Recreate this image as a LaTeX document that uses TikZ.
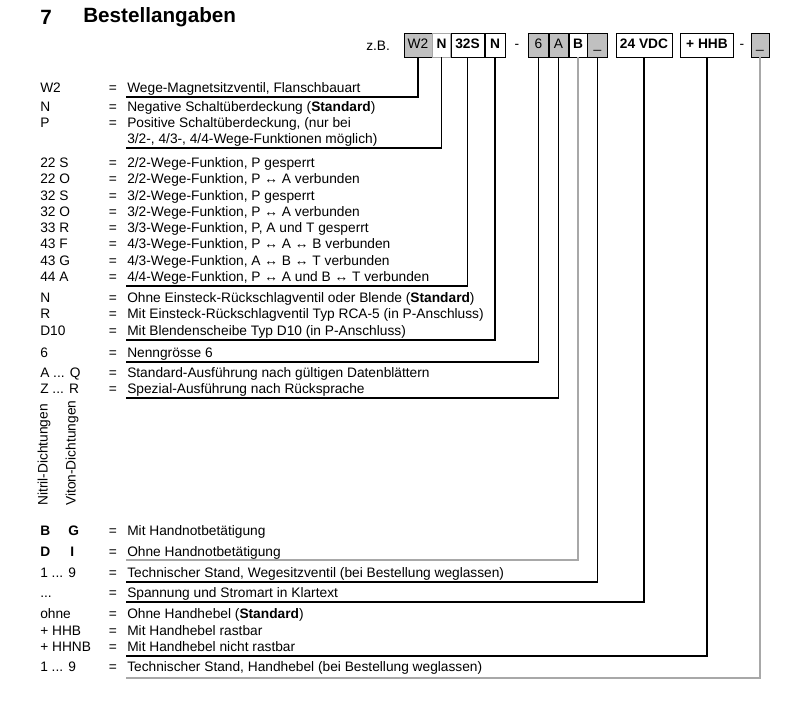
\documentclass[tikz,border=0pt]{standalone}
\usepackage{fontspec}
\setmainfont{Liberation Sans}
\begin{document}
\begin{tikzpicture}[x=0.75pt,y=-0.75pt,
  every node/.style={inner sep=0pt,font=\fontsize{10.3}{12}\selectfont},
  lab/.style={anchor=base west},
  eqs/.style={anchor=base},
  desc/.style={anchor=base west},
  code/.style={draw,line width=0.7pt,minimum height=18pt,anchor=center,text height=7.4pt,text depth=2.2pt,font=\fontsize{10.3}{12}\selectfont},
  codeb/.style={code,font=\fontsize{10.3}{12}\selectfont\bfseries},
  grayfill/.style={fill=boxgray},
  conn/.style={line width=0.8pt},
  gconn/.style={line width=0.8pt,draw=linegray}]
\definecolor{boxgray}{HTML}{C0C0C0}
\definecolor{linegray}{HTML}{A8A8A8}
\useasboundingbox (0,0) rectangle (807,702);
% title
\node[anchor=west,font=\fontsize{15.5}{18}\selectfont\bfseries] (t7) at (40,17.5) {7};
\node[anchor=west,font=\fontsize{15.5}{18}\selectfont\bfseries] (ttl) at (83,17.5) {Bestellangaben};
% code boxes
\node[anchor=west] (zb) at (366,46) {z.B.};
\node[code,grayfill,minimum width=21pt] (bW2) at (418,45) {W2};
\node[codeb,draw=linegray,minimum width=14pt] (bN) at (441.5,45) {N};
\node[codeb,minimum width=24.75pt] (bS) at (467.5,45) {32S};
\node[codeb,minimum width=15pt] (bR) at (495,45) {N};
\node (m1) at (517,46) {-};
\node[code,grayfill,minimum width=15pt] (b6) at (538.5,45) {6};
\node[code,grayfill,minimum width=14.25pt] (bA) at (558.5,45) {A};
\node[codeb,minimum width=13.5pt] (bB) at (578,45) {B};
\node[code,grayfill,minimum width=15pt] (bT) at (597.5,45) {\_};
\node[codeb,minimum width=42pt] (bV) at (644,45) {24 VDC};
\node[codeb,minimum width=39.75pt] (bH) at (707,45) {+ HHB};
\node (m2) at (742,46) {-};
\node[code,grayfill,minimum width=13.5pt] (bE) at (760,45) {\_};
% rows
\newcommand\entry[4]{%
  \node[lab] (l#1) at (40,#2) {#3};
  \node[eqs] (q#1) at (113,#2) {=};
  \node[desc] (d#1) at (127,#2) {#4};}
\entry{a}{92.5}{W2}{Wege-Magnetsitzventil, Flanschbauart}
\entry{b}{112}{N}{Negative Schaltüberdeckung (\textbf{Standard})}
\entry{c}{128}{P}{Positive Schaltüberdeckung, (nur bei}
\node[desc] (dc2) at (127,144) {3/2-, 4/3-, 4/4-Wege-Funktionen möglich)};
\entry{d}{167.5}{22 S}{2/2-Wege-Funktion, P gesperrt}
\entry{e}{183.8}{22 O}{2/2-Wege-Funktion, P ↔ A verbunden}
\entry{f}{200.1}{32 S}{3/2-Wege-Funktion, P gesperrt}
\entry{g}{216.4}{32 O}{3/2-Wege-Funktion, P ↔ A verbunden}
\entry{h}{232.7}{33 R}{3/3-Wege-Funktion, P, A und T gesperrt}
\entry{i}{249}{43 F}{4/3-Wege-Funktion, P ↔ A ↔ B verbunden}
\entry{j}{265.3}{43 G}{4/3-Wege-Funktion, A ↔ B ↔ T verbunden}
\entry{k}{281.6}{44 A}{4/4-Wege-Funktion, P ↔ A und B ↔ T verbunden}
\entry{l}{302.5}{N}{Ohne Einsteck-Rückschlagventil oder Blende (\textbf{Standard})}
\entry{m}{319}{R}{Mit Einsteck-Rückschlagventil Typ RCA-5 (in P-Anschluss)}
\entry{n}{335.5}{D10}{Mit Blendenscheibe Typ D10 (in P-Anschluss)}
\entry{o}{357.5}{6}{Nenngrösse 6}
\entry{p}{377.5}{A ... Q}{Standard-Ausführung nach gültigen Datenblättern}
\entry{q}{393.5}{Z ... R}{Spezial-Ausführung nach Rücksprache}
\node[rotate=90,anchor=west] (nit) at (44,506) {Nitril-Dichtungen};
\node[rotate=90,anchor=west] (vit) at (72,506) {Viton-Dichtungen};
\entry{r}{535.5}{\textbf{B}}{Mit Handnotbetätigung}
\node[lab] (lr2) at (68,535.5) {\textbf{G}};
\entry{s}{556}{\textbf{D}}{Ohne Handnotbetätigung}
\node[lab] (ls2) at (70,556) {\textbf{I}};
\entry{t}{577.5}{1 ... 9}{Technischer Stand, Wegesitzventil (bei Bestellung weglassen)}
\entry{u}{597.5}{...}{Spannung und Stromart in Klartext}
\entry{v}{618.5}{ohne}{Ohne Handhebel (\textbf{Standard})}
\entry{w}{635}{+ HHB}{Mit Handhebel rastbar}
\entry{x}{651.5}{+ HHNB}{Mit Handhebel nicht rastbar}
\entry{y}{671.5}{1 ... 9}{Technischer Stand, Handhebel (bei Bestellung weglassen)}
% underline end points
\coordinate (u1) at (126,97);
\coordinate (u2) at (126,148);
\coordinate (u3) at (126,286);
\coordinate (u4) at (126,340);
\coordinate (u5) at (126,362);
\coordinate (u6) at (126,398);
\coordinate (u7) at (126,560);
\coordinate (u8) at (126,582);
\coordinate (u9) at (126,602);
\coordinate (u10) at (126,656);
\coordinate (u11) at (126,678);
% connectors
\draw[conn] (bW2.south) |- (u1);
\draw[conn] (bN.south) |- (u2);
\draw[conn] (bS.south) |- (u3);
\draw[conn] (bR.south) |- (u4);
\draw[conn] (b6.south) |- (u5);
\draw[conn] (bA.south) |- (u6);
\draw[gconn] (bB.south) |- (u7);
\draw[conn] (bT.south) |- (u8);
\draw[conn] (bV.south) |- (u9);
\draw[conn] (bH.south) |- (u10);
\draw[gconn] (bE.south) |- (u11);
\end{tikzpicture}
\end{document}
